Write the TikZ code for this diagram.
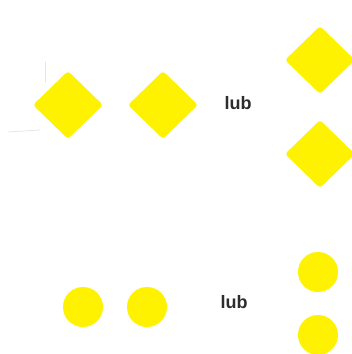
\documentclass[tikz,border=0pt]{standalone}
\usepackage{fontspec}
\setmainfont{Liberation Sans}
\usetikzlibrary{shapes.geometric}
\definecolor{yel}{RGB}{254,242,0}
\definecolor{txt}{RGB}{45,45,45}
\definecolor{faint}{RGB}{228,228,234}
\tikzset{
  ydia/.style={diamond, fill=yel, draw=none, inner sep=0pt, minimum width=70pt, minimum height=68pt, rounded corners=3pt},
  ydot/.style={circle, fill=yel, draw=none, inner sep=0pt, minimum size=40pt},
  lubtext/.style={text=txt, font=\fontsize{18}{21}\selectfont\bfseries, inner sep=0pt},
}
\begin{document}
\begin{tikzpicture}[x=1pt,y=-1pt]
\useasboundingbox (0,0) rectangle (352,354);
\fill[white] (0,0) rectangle (352,354);
% faint lines at left
\draw[faint, line width=0.7pt] (45,62) -- (45,82);
\draw[faint, line width=0.7pt] (8,132) -- (40,130);
% diamonds
\node[ydia] (d1) at (68,105) {};
\node[ydia] (d2) at (163,105) {};
\node[lubtext] (t1) at (238,103) {lub};
\node[ydia] (d3) at (320,60) {};
\node[ydia] (d4) at (320,154) {};
% circles
\node[ydot] (c1) at (83,307) {};
\node[ydot] (c2) at (147,307) {};
\node[lubtext] (t2) at (234,302) {lub};
\node[ydot] (c3) at (318,272) {};
\node[ydot] (c4) at (318,335) {};
\end{tikzpicture}
\end{document}
